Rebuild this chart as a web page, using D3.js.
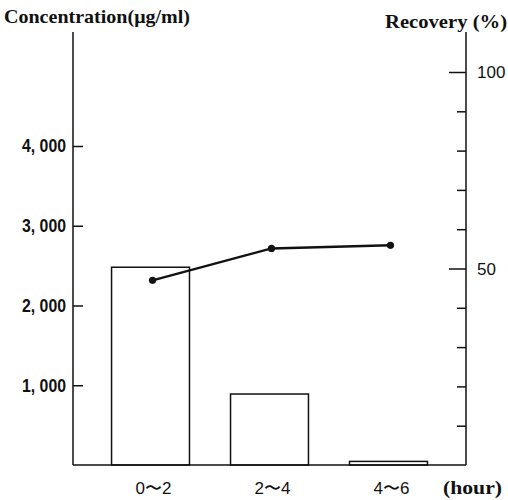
<!DOCTYPE html>
<html>
<head>
<meta charset="utf-8">
<script src="https://cdn.jsdelivr.net/npm/d3@7"></script>
<style>
  html, body { margin: 0; padding: 0; background: #fff; }
  svg { display: block; }
  .serif { font-family: "Liberation Serif", "DejaVu Serif", serif; font-weight: bold; fill: #111; }
  .sans { font-family: "Liberation Sans", Arial, sans-serif; fill: #111; }
</style>
</head>
<body>
<svg id="chart" width="508" height="500"></svg>
<script>
// Collection periods (hours after dosing)
const periods = ["0〜2", "2〜4", "4〜6"];
// Urinary concentration per period (µg/ml)
const concentration = [2480, 890, 45];
// Cumulative recovery (%)
const recovery = [47, 55.1, 55.9];
// Axis ticks
const concTicks = [1000, 2000, 3000, 4000];
const recTicks = [10, 20, 30, 40, 50, 60, 70, 80, 90, 100];
const recLabels = [50, 100];

const svg = d3.select("#chart");
const plotLeft = 73, plotRight = 466, plotBottom = 465, plotTop = 32;

const x = d3.scaleBand().domain(periods).range([plotLeft, plotRight])
  .paddingInner(0.345).paddingOuter(0.324);
const yL = d3.scaleLinear().domain([0, 4000]).range([plotBottom, 146]);
const yR = d3.scaleLinear().domain([0, 100]).range([plotBottom, 72]);

// Bars
svg.append("g").selectAll("rect").data(periods).join("rect")
  .attr("x", d => x(d))
  .attr("width", x.bandwidth())
  .attr("y", (d, i) => yL(concentration[i]))
  .attr("height", (d, i) => plotBottom - yL(concentration[i]))
  .attr("fill", "#fff").attr("stroke", "#111").attr("stroke-width", 1.5);

// Left axis (ticks pointing inward)
const gL = svg.append("g").attr("transform", `translate(${plotLeft},0)`)
  .call(d3.axisLeft(yL).tickValues(concTicks).tickSize(-10).tickPadding(7)
    .tickFormat(d => d3.format(",")(d).replace(",", ", ")));
gL.attr("font-family", null).attr("font-size", null);
gL.select(".domain").remove();
gL.selectAll(".tick line").attr("stroke", "#111").attr("stroke-width", 1.5);
gL.selectAll(".tick text").attr("class", "sans").style("font-size", "18px")
  .style("font-weight", "bold").attr("textLength", 44).attr("lengthAdjust", "spacingAndGlyphs");
gL.append("line").attr("x1", 0).attr("x2", 0).attr("y1", plotTop).attr("y2", plotBottom)
  .attr("stroke", "#111").attr("stroke-width", 1.5);

// Right axis (ticks pointing inward, longer at labelled values)
const gR = svg.append("g").attr("transform", `translate(${plotRight},0)`)
  .call(d3.axisLeft(yR).tickValues(recTicks).tickSize(9).tickFormat(""));
gR.attr("font-family", null).attr("font-size", null);
gR.select(".domain").remove();
gR.selectAll(".tick line").attr("stroke", "#111").attr("stroke-width", 1.5)
  .attr("x2", d => recLabels.includes(d) ? -17 : -9);
gR.append("line").attr("x1", 0).attr("x2", 0).attr("y1", plotTop).attr("y2", plotBottom)
  .attr("stroke", "#111").attr("stroke-width", 1.5);
gR.selectAll(".lbl").data(recLabels).join("text")
  .attr("class", "sans").attr("x", 11).attr("y", d => yR(d)).attr("dy", "0.36em")
  .attr("text-anchor", "start").style("font-size", "17px").text(d => d);

// Bottom axis
svg.append("line").attr("x1", plotLeft).attr("x2", plotRight).attr("y1", plotBottom).attr("y2", plotBottom)
  .attr("stroke", "#111").attr("stroke-width", 1.5);
svg.append("g").selectAll("text").data(periods).join("text")
  .attr("class", "sans").attr("x", d => x(d) + x.bandwidth() / 2 + 3).attr("y", 494)
  .attr("text-anchor", "middle").style("font-size", "17px")
  .text(d => d);
svg.append("text").attr("class", "serif").attr("x", 443).attr("y", 494)
  .style("font-size", "18px").attr("textLength", 59).attr("lengthAdjust", "spacingAndGlyphs")
  .text("(hour)");

// Axis titles
svg.append("text").attr("class", "serif").attr("x", 4).attr("y", 23)
  .style("font-size", "19px").attr("textLength", 186).attr("lengthAdjust", "spacingAndGlyphs")
  .text("Concentration(μg/ml)");
svg.append("text").attr("class", "serif").attr("x", 385).attr("y", 28)
  .style("font-size", "19px").attr("textLength", 122).attr("lengthAdjust", "spacingAndGlyphs")
  .text("Recovery (%)");

// Recovery line
const cx = d => x(d) + x.bandwidth() / 2 + 2;
svg.append("path")
  .datum(periods)
  .attr("d", d3.line().x(cx).y((d, i) => yR(recovery[i])))
  .attr("fill", "none").attr("stroke", "#111").attr("stroke-width", 2.4);
svg.append("g").selectAll("circle").data(periods).join("circle")
  .attr("cx", cx).attr("cy", (d, i) => yR(recovery[i])).attr("r", 3.6).attr("fill", "#111");
</script>
</body>
</html>
